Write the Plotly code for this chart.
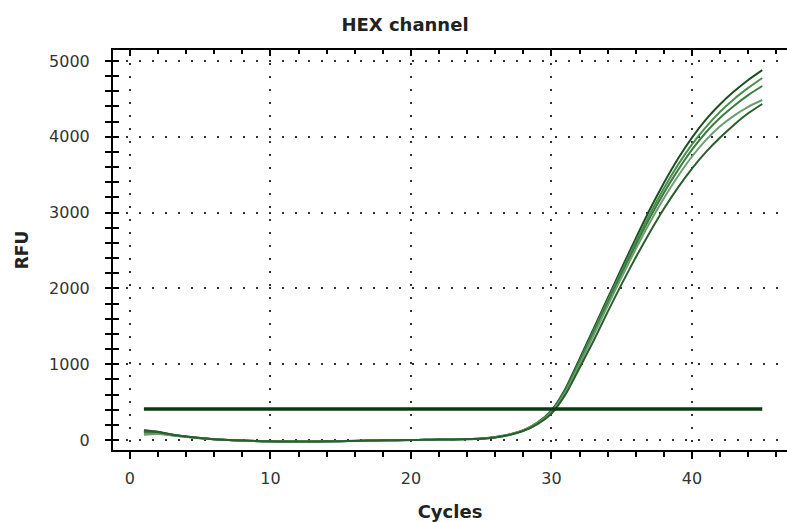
import plotly.graph_objects as go

cycles = list(range(1, 46))

rfu_a = [130, 110, 72, 46, 26, 11, 1, -7, -13, -17, -19, -20, -19, -17, -14, -11, -8, -5, -2, 0, 3, 5, 8, 12, 20, 38, 72,
         130, 230, 390, 680, 1070, 1470, 1870, 2270, 2660, 3040, 3390, 3710, 3990, 4230, 4430, 4600, 4750, 4880]
rfu_b = [110, 100, 68, 44, 25, 10, 0, -8, -14, -18, -20, -21, -20, -18, -15, -12, -8, -5, -2, 0, 3, 5, 8, 12, 19, 36, 70,
         125, 225, 380, 660, 1040, 1440, 1840, 2230, 2610, 2980, 3320, 3630, 3900, 4130, 4330, 4500, 4645, 4776]
rfu_c = [95, 92, 64, 42, 24, 9, -1, -9, -15, -19, -21, -22, -21, -19, -16, -12, -9, -6, -3, -1, 2, 4, 7, 11, 18, 35, 68,
         120, 220, 370, 650, 1030, 1420, 1810, 2200, 2570, 2930, 3260, 3560, 3830, 4060, 4250, 4410, 4550, 4670]
rfu_d = [70, 80, 60, 40, 23, 9, -1, -9, -15, -19, -21, -22, -21, -19, -16, -12, -9, -6, -3, -1, 2, 4, 7, 11, 19, 37, 70,
         125, 220, 365, 630, 1000, 1380, 1770, 2150, 2520, 2870, 3190, 3480, 3740, 3960, 4140, 4280, 4395, 4485]
rfu_e = [125, 105, 70, 45, 25, 10, 0, -8, -14, -18, -20, -21, -20, -18, -15, -12, -8, -5, -2, 0, 3, 5, 8, 12, 18, 34, 66,
         120, 210, 350, 600, 950, 1310, 1690, 2060, 2410, 2740, 3050, 3330, 3580, 3800, 3990, 4160, 4310, 4433]

threshold_x = [1, 45]
threshold_y = [410, 410]

series = [
    ("A", rfu_a, "#1c4f22"),
    ("B", rfu_b, "#4b8f4f"),
    ("C", rfu_c, "#3a7d3f"),
    ("D", rfu_d, "#6e9e70"),
    ("E", rfu_e, "#2a5e2e"),
]

x_range = [-1.2, 46.76]
y_range = [-132, 5145]

fig = go.Figure()
for name, vals, col in series:
    fig.add_trace(go.Scatter(x=cycles, y=vals, mode="lines", name=name,
                             line=dict(color=col, width=2, shape="spline", smoothing=0.6),
                             showlegend=False))

fig.add_trace(go.Scatter(x=threshold_x, y=threshold_y, mode="lines", xaxis="x2", yaxis="y2",
                         line=dict(color="#0b3a10", width=3.5), showlegend=False))

tickfont = dict(family="DejaVu Sans", size=16, color="#333333")

fig.update_layout(
    width=787, height=522,
    margin=dict(l=113, r=0, t=50, b=72),
    paper_bgcolor="white", plot_bgcolor="white",
    title=dict(text="<b>HEX channel</b>", x=405 / 787, xref="container", xanchor="center",
               y=1 - 25 / 522, yref="container", yanchor="middle",
               font=dict(family="DejaVu Sans", size=18, color="#222222")),
    xaxis=dict(range=x_range, tick0=0, dtick=10, showline=True, linecolor="black", linewidth=2,
               ticks="outside", ticklen=7, tickwidth=2, tickcolor="black",
               minor=dict(tick0=0, dtick=2, ticks="outside", ticklen=5, tickwidth=2, tickcolor="black", showgrid=False),
               showgrid=True, gridcolor="#333333", gridwidth=2, griddash="2px,11px",
               zeroline=False, tickfont=tickfont, ticklabelstandoff=6, automargin=False,
               title=dict(text="<b>Cycles</b>", font=dict(family="DejaVu Sans", size=18, color="#222222"), standoff=18)),
    xaxis2=dict(range=x_range, overlaying="x", side="top", anchor="y", tick0=0, dtick=10,
                showline=True, linecolor="black", linewidth=2,
                ticks="inside", ticklen=6, tickwidth=2, tickcolor="black",
                minor=dict(tick0=0, dtick=2, ticks="inside", ticklen=4, tickwidth=2, tickcolor="black", showgrid=False),
                showgrid=False, zeroline=False, showticklabels=False, automargin=False),
    yaxis=dict(range=y_range, tick0=0, dtick=1000, showline=True, linecolor="black", linewidth=2,
               ticks="outside", ticklen=6, tickwidth=2, tickcolor="black",
               minor=dict(tick0=0, dtick=200, ticks="outside", ticklen=6, tickwidth=2, tickcolor="black", showgrid=False),
               showgrid=True, gridcolor="#333333", gridwidth=2, griddash="2px,11px",
               zeroline=False, tickfont=tickfont, ticklabelstandoff=12, automargin=False,
               title=dict(text="<b>RFU</b>", font=dict(family="DejaVu Sans", size=17, color="#222222"), standoff=16)),
    yaxis2=dict(range=y_range, overlaying="y", side="left", anchor="x", tick0=0, dtick=1000,
                showline=False, ticks="inside", ticklen=6, tickwidth=2, tickcolor="black",
                minor=dict(tick0=0, dtick=200, ticks="inside", ticklen=6, tickwidth=2, tickcolor="black", showgrid=False),
                showgrid=False, zeroline=False, showticklabels=False, automargin=False),
)

fig.write_html("out.html", config={"displayModeBar": False},
               post_script="document.body.style.margin='0';document.body.style.padding='0';")
